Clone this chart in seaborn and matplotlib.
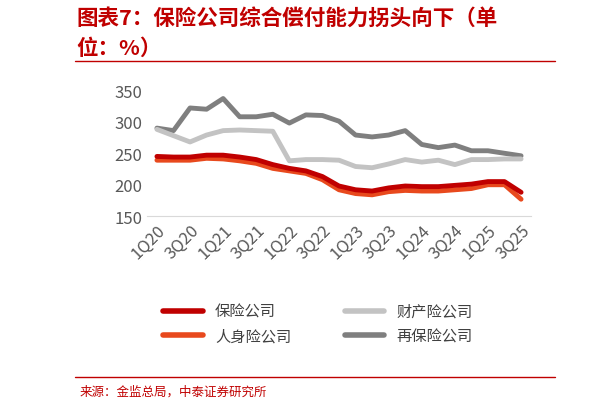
import matplotlib
matplotlib.use("Agg")
import matplotlib.pyplot as plt
import seaborn as sns
import pandas as pd
from matplotlib.lines import Line2D

quarters = [f"{q}Q{y}" for y in range(20, 26) for q in range(1, 5)][:23]
insurers = [245, 244, 244, 247, 247, 244, 240, 232, 226, 222, 213, 198, 192, 190, 195, 198, 197, 197, 199, 201, 205, 205, 188]
property_ins = [288, 278, 268, 279, 286, 287, 286, 285, 238, 240, 240, 239, 229, 227, 233, 240, 236, 239, 232, 240, 240, 241, 241]
life_ins = [239, 239, 239, 242, 241, 238, 234, 226, 222, 218, 208, 192, 186, 184, 189, 191, 190, 190, 192, 194, 200, 200, 177]
reinsurers = [290, 286, 322, 320, 337, 308, 308, 312, 298, 311, 310, 301, 279, 276, 279, 286, 264, 259, 263, 254, 254, 250, 246]

series = {"保险公司": insurers, "财产险公司": property_ins, "人身险公司": life_ins, "再保险公司": reinsurers}
colors = {"保险公司": "#C00000", "财产险公司": "#C3C3C3", "人身险公司": "#E8491D", "再保险公司": "#7F7F7F"}

df = pd.DataFrame([(k, i, v) for k, vals in series.items() for i, v in enumerate(vals)],
                  columns=["series", "idx", "value"])

sns.set_style("white")
plt.rcParams["font.family"] = ["Noto Sans CJK SC", "DejaVu Sans"]

fig = plt.figure(figsize=(6, 4.06), dpi=100)
ax = fig.add_axes([0.245, 0.465, 0.64, 0.31])
sns.lineplot(data=df, x="idx", y="value", hue="series", palette=colors, linewidth=3.5,
             ax=ax, legend=False, hue_order=["再保险公司", "财产险公司", "人身险公司", "保险公司"])
ax.set_ylim(150, 350)
ax.set_yticks([150, 200, 250, 300, 350])
ax.set_xlim(-0.6, 22.6)
ax.set_xticks(range(0, 23, 2))
ax.set_xticklabels(quarters[::2], rotation=45, ha="right", rotation_mode="anchor")
ax.tick_params(labelsize=12, colors="#595959", length=0)
ax.set_xlabel("")
ax.set_ylabel("")
for s in ["top", "right", "left"]:
    ax.spines[s].set_visible(False)
ax.spines["bottom"].set_color("#D9D9D9")

# legend
order = ["保险公司", "人身险公司", "财产险公司", "再保险公司"]
handles = [Line2D([], [], color=colors[k], lw=4) for k in order]
fig.legend(handles, order, ncol=2, loc="center", bbox_to_anchor=(0.53, 0.2), frameon=False,
           fontsize=11, handlelength=2.6, columnspacing=3.5, labelcolor="#404040")

fig.text(0.128, 0.94, "图表7：保险公司综合偿付能力拐头向下（单", color="#C00000",
         fontsize=15.5, fontweight="bold", style="italic")
fig.text(0.128, 0.865, "位：%）", color="#C00000", fontsize=15.5, fontweight="bold", style="italic")
fig.add_artist(Line2D([0.125, 0.925], [0.847, 0.847], color="#C00000", lw=1))
fig.add_artist(Line2D([0.125, 0.925], [0.068, 0.068], color="#C00000", lw=1))
fig.text(0.133, 0.025, "来源：金监总局，中泰证券研究所", color="#C00000", fontsize=9)

fig.savefig("out.png", dpi=100)
